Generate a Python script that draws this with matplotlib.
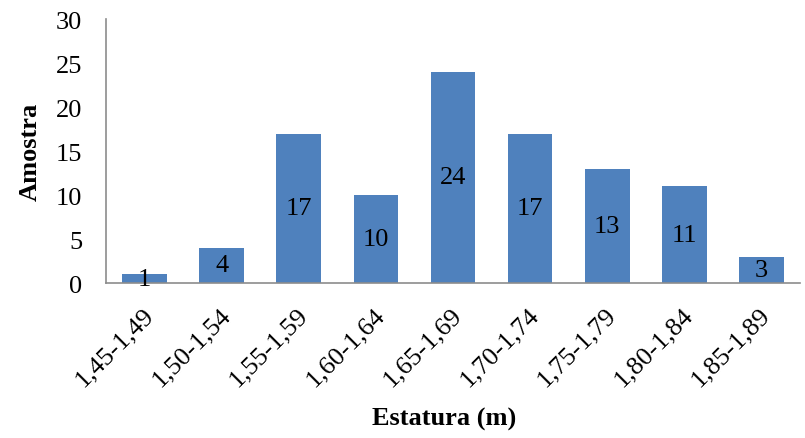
import matplotlib.pyplot as plt
from matplotlib.transforms import ScaledTranslation

plt.rcParams['font.family'] = ['Liberation Serif', 'DejaVu Serif']

classes = ["1,45-1,49", "1,50-1,54", "1,55-1,59", "1,60-1,64", "1,65-1,69",
           "1,70-1,74", "1,75-1,79", "1,80-1,84", "1,85-1,89"]
amostra = [1, 4, 17, 10, 24, 17, 13, 11, 3]

fig = plt.figure(figsize=(8.05, 4.39), dpi=100)
ax = fig.add_axes([0.1317, 0.353, 0.862, 0.601])

x = range(len(classes))
bars = ax.bar(x, amostra, width=0.58, color="#4F81BD")

# value labels in the middle of each bar
for b, v in zip(bars, amostra):
    ax.text(b.get_x() + b.get_width() / 2, v / 2, str(v),
            ha="center", va="center", fontsize=19)

ax.set_xlim(-0.5, len(classes) - 0.5)
ax.set_ylim(0, 30)
ax.set_yticks(range(0, 31, 5))
ax.set_xticks(list(x))
ax.set_xticklabels(classes, rotation=45, ha="right", va="center",
                   rotation_mode="anchor")
ax.tick_params(axis="both", length=0, labelsize=19)
ax.tick_params(axis="y", pad=17)
ax.tick_params(axis="x", pad=14)

# nudge the slanted labels a little to the right and down
shift = ScaledTranslation(4 / 72, -6 / 72, fig.dpi_scale_trans)
for lbl in ax.get_xticklabels():
    lbl.set_transform(lbl.get_transform() + shift)

for s in ["top", "right"]:
    ax.spines[s].set_visible(False)
for s in ["left", "bottom"]:
    ax.spines[s].set_color("#8C8C8C")
    ax.spines[s].set_linewidth(1.2)

fig.text(0.038, 0.654, "Amostra", rotation=90, ha="center", va="center",
         fontsize=19, fontweight="bold")
fig.text(0.5516, 0.045, "Estatura (m)", ha="center", va="center",
         fontsize=19, fontweight="bold")

fig.savefig("out.png", dpi=100)
